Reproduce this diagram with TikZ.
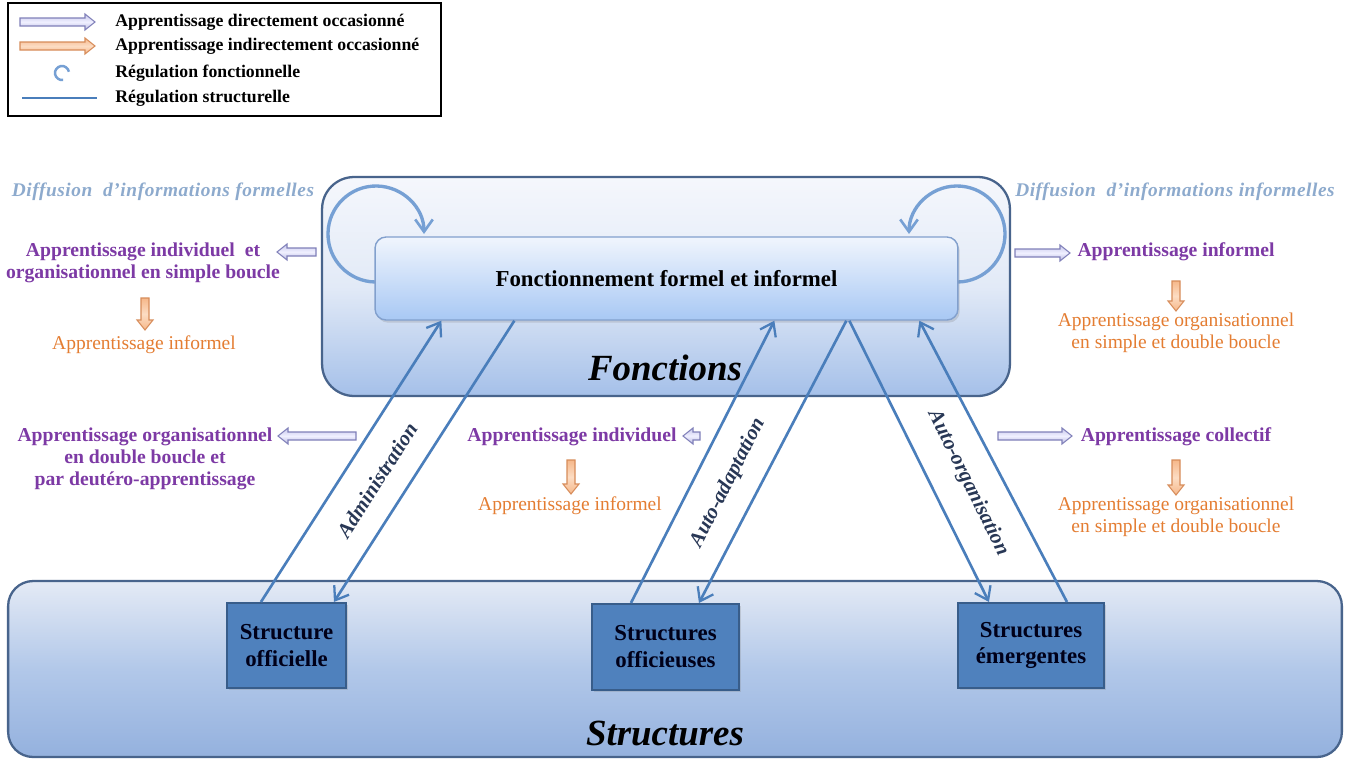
\documentclass[tikz,border=0pt]{standalone}
\usepackage{fontspec}
\setmainfont{Liberation Serif}
\newfontfamily\spacedfont[LetterSpace=3]{Liberation Serif}
\usetikzlibrary{arrows.meta,calc,shadows}
\definecolor{conn}{RGB}{74,126,187}
\definecolor{loopc}{RGB}{118,160,212}
\definecolor{purp}{RGB}{125,58,165}
\definecolor{oran}{RGB}{228,125,50}
\definecolor{diff}{RGB}{141,170,205}
\definecolor{lbl}{RGB}{40,55,85}
\definecolor{sbox}{RGB}{79,129,189}
\definecolor{sboxb}{RGB}{56,93,138}
\definecolor{fborder}{RGB}{72,100,140}
\definecolor{lavf}{RGB}{200,200,236}
\definecolor{lavl}{RGB}{240,240,255}
\definecolor{lavb}{RGB}{128,128,185}
\definecolor{orf}{RGB}{246,184,138}
\definecolor{orl}{RGB}{252,220,195}
\definecolor{orb}{RGB}{215,140,90}
\tikzset{
  lav/.style={draw=lavb, line width=0.6pt, top color=lavf, bottom color=lavf!80!lavb, middle color=lavl},
  ora/.style={draw=orb, line width=0.6pt, top color=orf, bottom color=orf, middle color=orl},
  pics/barrow/.style 2 args={code={
    \path[#2] (0,-4) -- (#1-10,-4) -- (#1-10,-8) -- (#1,0) -- (#1-10,8) -- (#1-10,4) -- (0,4) -- cycle;}},
  connector/.style={draw=conn, line width=1.5pt, -{Straight Barb[length=7pt,width=10pt,line width=1.3pt]}},
  loopline/.style={draw=loopc, line width=1.9pt, -{Straight Barb[length=7pt,width=10pt,line width=1.5pt]}},
  purptext/.style={text=purp, font=\bfseries\fontsize{11.2}{12.6}\selectfont, align=center, inner sep=0pt},
  orantext/.style={text=oran, font=\fontsize{11.1}{12.6}\selectfont, align=center, inner sep=0pt},
  difftext/.style={text=diff, font=\spacedfont\bfseries\itshape\fontsize{11}{13}\selectfont, inner sep=0pt},
  rotlabel/.style={text=lbl, font=\bfseries\itshape\fontsize{12}{14}\selectfont, inner sep=0pt},
  legtext/.style={font=\bfseries\fontsize{10.1}{12}\selectfont, anchor=west, inner sep=0pt},
  smallbox/.style={draw=sboxb, line width=1.2pt, fill=sbox, text=black!90!blue, align=center,
    font=\bfseries\fontsize{13}{15.3}\selectfont, drop shadow={opacity=0.25, shadow xshift=1pt, shadow yshift=-1pt}},
  bigtitle/.style={font=\bfseries\itshape\fontsize{21}{24}\selectfont, text=black, inner sep=0pt},
}
\begin{document}
\begin{tikzpicture}[x=0.02cm,y=-0.02cm]
\useasboundingbox (0,0) rectangle (1346,758);
\fill[white] (0,0) rectangle (1346,758);

% Legend
\node[draw=black, line width=1.3pt, minimum width=8.66cm, minimum height=2.26cm, inner sep=0pt] (legend) at (224.5,59.5) {};
\pic at (20,22) {barrow={75}{lav}};
\pic at (20,46) {barrow={75}{ora}};
\draw[loopc, line width=1.4pt] (62,73) ++(-10:7) arc[start angle=-10, end angle=-280, radius=7];
\draw[conn, line width=1.6pt] (22,98) -- (97,98);
\node[legtext] (lg1) at (115,22) {Apprentissage directement occasionné};
\node[legtext] (lg2) at (115,46) {Apprentissage indirectement occasionné};
\node[legtext] (lg3) at (115,73) {Régulation fonctionnelle};
\node[legtext] (lg4) at (115,98) {Régulation structurelle};

% Structures band
\node[draw=fborder, line width=1.3pt, rounded corners=0.5cm, minimum width=26.68cm, minimum height=3.52cm,
  top color={rgb,255:red,228;green,234;blue,245}, bottom color={rgb,255:red,148;green,177;blue,222},
  middle color={rgb,255:red,178;green,200;blue,233}, inner sep=0pt] (structband) at (675,669) {};
\node[bigtitle] (structlbl) at (665,733) {Structures};

% Fonctions box
\node[draw=fborder, line width=1.3pt, rounded corners=0.64cm, minimum width=13.76cm, minimum height=4.38cm,
  top color={rgb,255:red,245;green,247;blue,252}, bottom color={rgb,255:red,165;green,192;blue,233},
  middle color={rgb,255:red,226;green,234;blue,247}, inner sep=0pt] (fonct) at (666,286.5) {};
\node[bigtitle] (fonctlbl) at (665,368) {Fonctions};

% loops (behind inner box)
\draw[loopline] (376,234) ++(91:48) arc[start angle=91, end angle=360, radius=48] coordinate (lb);
\draw[loopline] (957,234) ++(89:48) arc[start angle=89, end angle=-180, radius=48] coordinate (rb);

% inner box
\node[draw={rgb,255:red,130;green,160;blue,205}, line width=0.8pt, rounded corners=0.22cm, minimum width=11.66cm, minimum height=1.66cm,
  top color={rgb,255:red,240;green,245;blue,253}, bottom color={rgb,255:red,168;green,200;blue,244},
  font=\bfseries\fontsize{13}{15}\selectfont, drop shadow={opacity=0.25, shadow xshift=1pt, shadow yshift=-1.5pt}] (inner) at (666.5,278.5) {Fonctionnement formel et informel};

% structure boxes
\node[smallbox, minimum width=2.38cm, minimum height=1.7cm] (so) at (286.5,645.5) {Structure\\officielle};
\node[smallbox, minimum width=2.94cm, minimum height=1.72cm] (sf) at (665.5,647) {Structures\\officieuses};
\node[smallbox, minimum width=2.92cm, minimum height=1.7cm] (se) at (1031,645.5) {Structures\\émergentes};

% connectors
\draw[connector] ($(so.north west)+(35,0)$) -- ($(inner.south west)+(67,0)$);
\draw[connector] ($(inner.south west)+(140,0)$) -- ($(so.north west)+(108,0)$);
\draw[connector] ($(sf.north west)+(40,0)$) -- ($(inner.south west)+(400,0)$);
\draw[connector] ($(inner.south west)+(472,0)$) -- ($(sf.north west)+(108,0)$);
\draw[connector] ($(inner.south west)+(475,0)$) -- ($(se.north west)+(32,0)$);
\draw[connector] ($(se.north west)+(110,0)$) -- ($(inner.south west)+(545,0)$);

\node[rotlabel, rotate=57.5] (admin) at (377,480) {Administration};
\node[rotlabel, rotate=63] (autoad) at (728,483) {Auto-adaptation};
\node[rotlabel, rotate=-63.7] (autoorg) at (968,483) {Auto-organisation};

% side texts
\node[difftext] (d1) at (163,192) {Diffusion~ d’informations formelles};
\node[difftext] (d2) at (1175,192) {Diffusion~ d’informations informelles};

\node[purptext] (t1) at (143,263) {Apprentissage individuel~ et\\organisationnel en simple boucle};
\pic[rotate=180] at (316,252) {barrow={39}{lav}};
\pic[rotate=-90] at (145,298) {barrow={32}{ora}};
\node[orantext] (t2) at (144,345) {Apprentissage informel};

\pic at (1015,253) {barrow={55}{lav}};
\node[purptext] (t3) at (1176,252) {Apprentissage informel};
\pic[rotate=-90] at (1176,281) {barrow={30}{ora}};
\node[orantext] (t4) at (1176,333) {Apprentissage organisationnel\\en simple et double boucle};

\node[purptext] (t5) at (145,459) {Apprentissage organisationnel\\en double boucle et\\par deutéro-apprentissage};
\pic[rotate=180] at (356,436) {barrow={78}{lav}};

\node[purptext] (t6) at (572,437) {Apprentissage individuel};
\pic[rotate=180] at (700,436) {barrow={17}{lav}};
\pic[rotate=-90] at (571,460) {barrow={34}{ora}};
\node[orantext] (t7) at (570,506) {Apprentissage informel};

\pic at (998,436) {barrow={74}{lav}};
\node[purptext] (t8) at (1176,437) {Apprentissage collectif};
\pic[rotate=-90] at (1176,460) {barrow={35}{ora}};
\node[orantext] (t9) at (1176,517) {Apprentissage organisationnel\\en simple et double boucle};
\end{tikzpicture}
\end{document}
